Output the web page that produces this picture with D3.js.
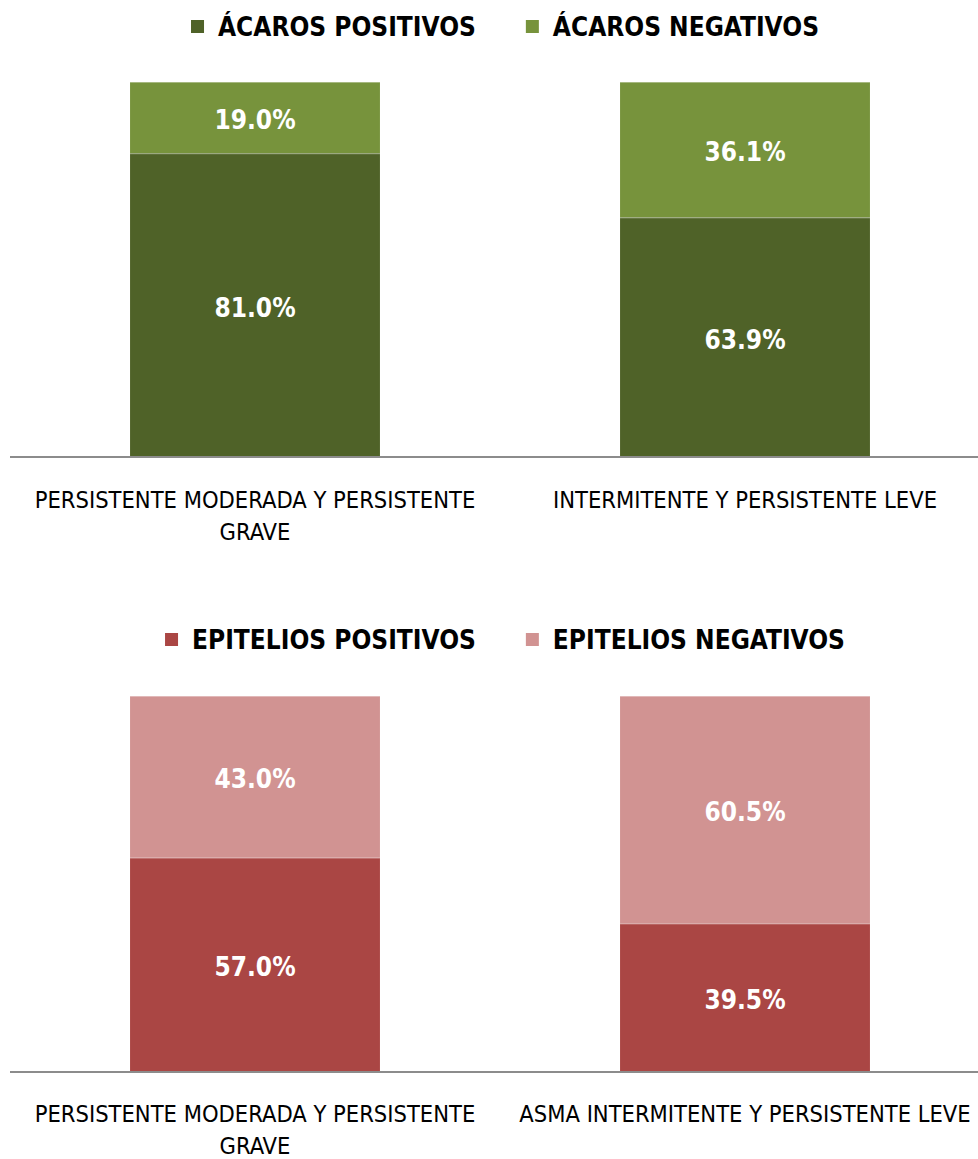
<!DOCTYPE html>
<html>
<head>
<meta charset="utf-8">
<script src="https://cdn.jsdelivr.net/npm/d3@7"></script>
<style>
  html, body { margin: 0; padding: 0; background: #fff; }
  svg { display: block; }
  text { font-family: "Liberation Sans Narrow", "DejaVu Sans Condensed", "Liberation Sans", sans-serif; }
</style>
</head>
<body>
<svg id="chart" width="978" height="1159"></svg>
<script>
// Mite (ácaros) sensitisation by asthma severity
const miteCategories = ["PERSISTENTE MODERADA Y PERSISTENTE GRAVE", "INTERMITENTE Y PERSISTENTE LEVE"];
const miteSeries = ["ÁCAROS POSITIVOS", "ÁCAROS NEGATIVOS"];
const mitePositive = [81.0, 63.9];
const miteNegative = [19.0, 36.1];

// Epithelium (epitelios) sensitisation by asthma severity
const epiCategories = ["PERSISTENTE MODERADA Y PERSISTENTE GRAVE", "ASMA INTERMITENTE Y PERSISTENTE LEVE"];
const epiSeries = ["EPITELIOS POSITIVOS", "EPITELIOS NEGATIVOS"];
const epiPositive = [57.0, 39.5];
const epiNegative = [43.0, 60.5];

const svg = d3.select("#chart");
const W = 978;

function wrap(textSel, maxWidth, lineHeight) {
  textSel.each(function () {
    const text = d3.select(this);
    const words = text.text().split(/\s+/);
    const x = text.attr("x");
    text.text(null);
    let line = [];
    let tspan = text.append("tspan").attr("x", x).attr("dy", 0);
    words.forEach(w => {
      line.push(w);
      tspan.text(line.join(" "));
      if (tspan.node().getComputedTextLength() > maxWidth && line.length > 1) {
        line.pop();
        tspan.text(line.join(" "));
        line = [w];
        tspan = text.append("tspan").attr("x", x).attr("dy", lineHeight).text(w);
      }
    });
  });
}

function panel(opts) {
  const g = svg.append("g");
  const { categories, series, positive, negative, colors, top, bottom, legendY, labelY } = opts;

  const x = d3.scaleBand().domain(categories).range([10, 990]).paddingInner(0.49).paddingOuter(0.245);
  const y = d3.scaleLinear().domain([0, 100]).range([bottom, top]);

  const stacks = categories.map((c, i) => [
    { cat: c, y0: 0, y1: positive[i], v: positive[i], color: colors[0] },
    { cat: c, y0: positive[i], y1: positive[i] + negative[i], v: negative[i], color: colors[1] }
  ]).flat();

  g.selectAll("rect.seg").data(stacks).join("rect")
    .attr("class", "seg")
    .attr("x", d => x(d.cat))
    .attr("width", x.bandwidth())
    .attr("y", d => y(d.y1))
    .attr("height", d => y(d.y0) - y(d.y1))
    .attr("fill", d => d.color);

  // faint highlight along the top edge of each segment
  g.selectAll("line.edge").data(stacks).join("line")
    .attr("x1", d => x(d.cat)).attr("x2", d => x(d.cat) + x.bandwidth())
    .attr("y1", d => y(d.y1) + 0.5).attr("y2", d => y(d.y1) + 0.5)
    .attr("stroke", "rgba(255,255,255,0.35)").attr("stroke-width", 1);

  g.selectAll("text.val").data(stacks).join("text")
    .attr("class", "val")
    .attr("x", d => x(d.cat) + x.bandwidth() / 2)
    .attr("y", d => (y(d.y0) + y(d.y1)) / 2)
    .attr("dy", "0.44em")
    .attr("text-anchor", "middle")
    .attr("fill", "#fff")
    .attr("font-weight", "bold")
    .attr("font-size", 26)
    .text(d => d.v.toFixed(1) + "%");

  // baseline axis
  const axis = g.append("g").attr("transform", `translate(0,${bottom})`)
    .call(d3.axisBottom(x).tickSize(0).tickFormat(""));
  axis.select(".domain").attr("d", `M10,0H${W}`).attr("stroke", "#8c8c8c").attr("stroke-width", 2);

  g.selectAll("text.cat").data(categories).join("text")
    .attr("class", "cat")
    .attr("x", d => x(d) + x.bandwidth() / 2)
    .attr("y", labelY)
    .attr("text-anchor", "middle")
    .attr("font-size", 23.5)
    .attr("fill", "#000")
    .text(d => d)
    .call(wrap, 480, 32);

  // legend
  const leg = g.append("g");
  const items = leg.selectAll("g").data(series).join("g");
  items.append("rect").attr("width", 13).attr("height", 13).attr("y", -7)
    .attr("fill", (d, i) => colors[i]);
  items.append("text").attr("x", 27).attr("dy", "0.36em")
    .attr("font-size", 26).attr("font-weight", "bold").attr("fill", "#000")
    .text(d => d);
  let cx = 0;
  items.each(function () {
    const w = this.getBBox().width;
    d3.select(this).attr("transform", `translate(${cx},0)`);
    cx += w + 50;
  });
  const total = cx - 50;
  leg.attr("transform", `translate(${505 - total / 2},${legendY})`);
}

panel({
  categories: miteCategories, series: miteSeries,
  positive: mitePositive, negative: miteNegative,
  colors: ["#4f6228", "#77933c"],
  top: 82, bottom: 457, legendY: 27, labelY: 508
});

panel({
  categories: epiCategories, series: epiSeries,
  positive: epiPositive, negative: epiNegative,
  colors: ["#aa4644", "#d19392"],
  top: 696, bottom: 1072, legendY: 640, labelY: 1122
});
</script>
</body>
</html>
